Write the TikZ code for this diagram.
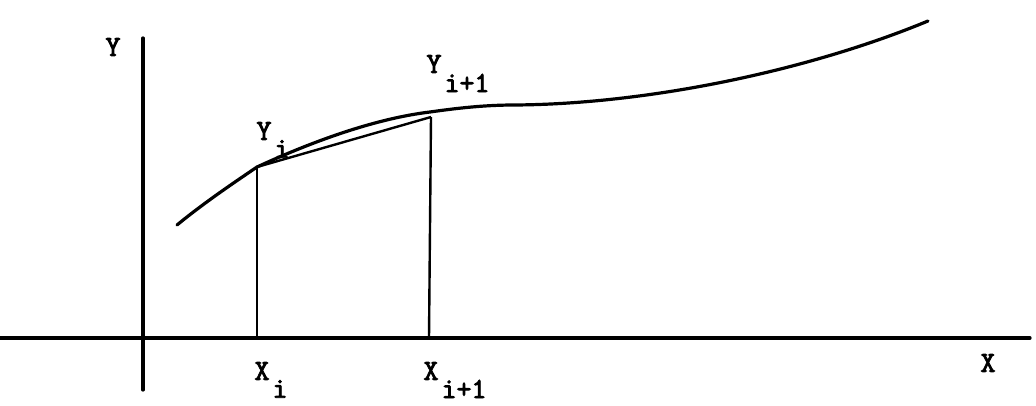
\documentclass[tikz,border=0pt]{standalone}
\usepackage{fontspec}
\newfontfamily\tw{Latin Modern Mono}[FakeBold=3]
\begin{document}
\begin{tikzpicture}[x=1pt,y=-1pt,
  ln/.style={line width=3.2pt,line cap=round,line join=round},
  thin/.style={line width=2.4pt},
  lbl/.style={inner sep=0pt,font=\fontsize{29}{29}\selectfont\tw}]
\useasboundingbox (0,0) rectangle (1036,406);
% axes
\coordinate (yb) at (143,390);
\coordinate (yt) at (143,38);
\coordinate (xl) at (0,338);
\coordinate (xr) at (1030,338);
\draw[ln] (yb) -- (yt);
\draw[ln] (xl) -- (xr);
% curve
\coordinate (c0) at (177,225);
\coordinate (pi) at (257,167);
\coordinate (c2) at (430,112);
\coordinate (c3) at (515,105);
\coordinate (c4) at (928,21);
\draw[ln] (c0) .. controls (205,202) and (235,182) .. (pi)
  .. controls (320,138) and (380,118) .. (c2)
  .. controls (465,107) and (490,105) .. (c3)
  .. controls (650,104) and (810,70) .. (c4);
% points
\coordinate (pj) at (431,117);
\coordinate (xi) at (257,338);
\coordinate (xj) at (429,338);
\draw[thin] (pi) -- (pj);
\draw[thin] (pi) -- (xi);
\draw[thin] (pj) -- (xj);
% labels
\node[lbl] (ly) at (113,47) {Y};
\node[lbl] (lyi) at (264,131) {Y};
\node[lbl] (lyis) at (282,149) {i};
\node[lbl] (lyj) at (434,64) {Y};
\node[lbl] (lyjs) at (467,83) {i+1};
\node[lbl] (lxi) at (262,371) {X};
\node[lbl] (lxis) at (280,389) {i};
\node[lbl] (lxj) at (431,371) {X};
\node[lbl] (lxjs) at (464,389) {i+1};
\node[lbl] (lx) at (988,363) {X};
\end{tikzpicture}
\end{document}
